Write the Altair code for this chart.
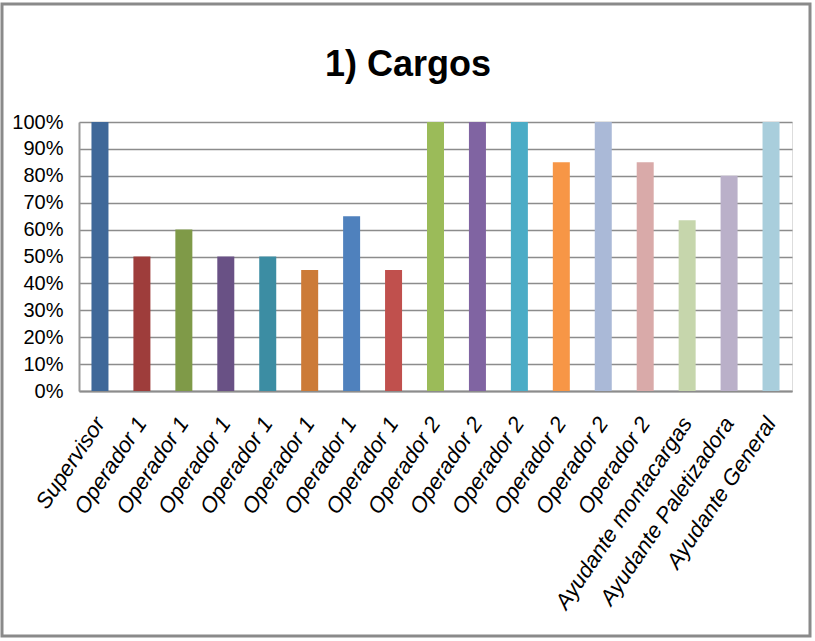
import altair as alt
import pandas as pd

categories = ["Supervisor", "Operador 1", "Operador 1", "Operador 1", "Operador 1",
              "Operador 1", "Operador 1", "Operador 1", "Operador 2", "Operador 2",
              "Operador 2", "Operador 2", "Operador 2", "Operador 2",
              "Ayudante montacargas", "Ayudante Paletizadora", "Ayudante General"]
values = [1.00, 0.50, 0.60, 0.50, 0.50, 0.45, 0.65, 0.45, 1.00, 1.00,
          1.00, 0.85, 1.00, 0.85, 0.635, 0.80, 1.00]
colors = ["#3F6899", "#9E3D3B", "#7F9A48", "#695185", "#3C8DA3", "#CC7B38",
          "#4F81BD", "#C0504D", "#9BBB59", "#8064A2", "#4BACC6", "#F79646",
          "#AAB9D7", "#D9AAA9", "#C6D6AC", "#BAB0C9", "#A9CEDC"]
title_text = "1) Cargos"

df = pd.DataFrame({"idx": list(range(len(categories))), "cargo": categories, "valor": values})
tdf = pd.DataFrame({"t": [title_text]})

label_expr = "[" + ",".join("'" + c + "'" for c in categories) + "][datum.value]"

W, H = 713, 269
PL, PT = 79, 122

bars = alt.Chart(df).mark_bar(size=17).encode(
    x=alt.X("idx:O", title=None,
            scale=alt.Scale(paddingInner=0, paddingOuter=0),
            axis=alt.Axis(labelExpr=label_expr, labelAngle=-56, labelAlign="right",
                          labelBaseline="middle", labelFontStyle="italic",
                          labelFontSize=22, labelFont="Liberation Sans",
                          labelColor="#000000", labelPadding=28, ticks=False,
                          labelLimit=0,
                          domainColor="#8c8c8c", domainWidth=2, labelOverlap=False)),
    y=alt.Y("valor:Q", title=None,
            scale=alt.Scale(domain=[0, 1], nice=False),
            axis=alt.Axis(format=".0%", values=[i / 10 for i in range(11)],
                          labelFontSize=20, labelFont="Liberation Sans",
                          labelColor="#000000", ticks=False, labelPadding=16,
                          domainColor="#9a9a9a", domainWidth=2,
                          gridColor="#8c8c8c", gridWidth=1.5)),
    color=alt.Color("idx:O", scale=alt.Scale(range=colors), legend=None),
)

frame = alt.Chart(tdf).mark_rect(fill=None, stroke="#8a8a8a", strokeWidth=3, clip=False).encode(
    x=alt.value(2 - PL), x2=alt.value(810 - PL),
    y=alt.value(4 - PT), y2=alt.value(636 - PT),
)

title = alt.Chart(tdf).mark_text(font="Liberation Sans", fontSize=36, fontWeight="bold",
                                 color="#000000", align="center", baseline="alphabetic",
                                 clip=False).encode(
    text="t:N", x=alt.value(408 - PL), y=alt.value(76 - PT),
)

chart = alt.layer(frame, bars, title).properties(
    width=W, height=H,
    autosize=alt.AutoSizeParams(type="none"),
    padding={"left": PL, "top": PT, "right": 815 - PL - W, "bottom": 641 - PT - H},
).configure_view(stroke=None).configure(background="white")

chart.save("out.html", embed_options={"renderer": "svg", "actions": False})
